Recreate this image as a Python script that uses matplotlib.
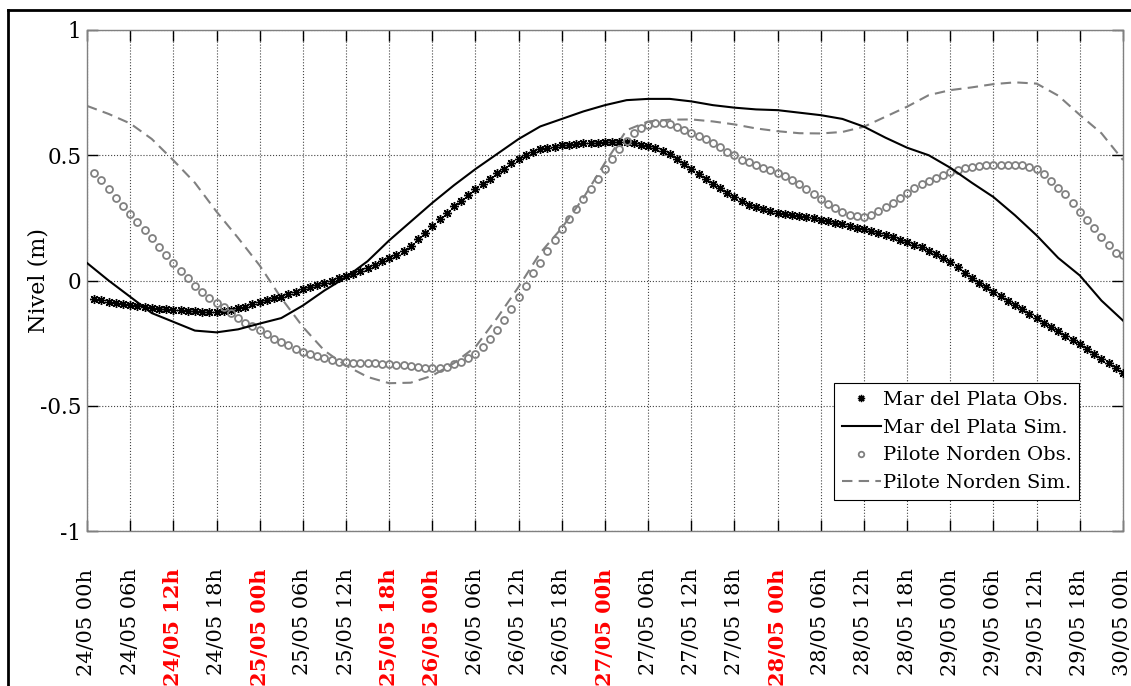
import numpy as np
import matplotlib
matplotlib.use('Agg')
import matplotlib.pyplot as plt
from matplotlib.lines import Line2D

plt.rcParams['font.family'] = ['DejaVu Serif']

# ---------------- data ----------------
hours_obs = np.arange(1, 145)  # hours since 24/05 00h
mdp_obs = [-0.074, -0.079, -0.084, -0.088, -0.093, -0.098, -0.102, -0.105, -0.109, -0.112,
           -0.115, -0.117, -0.119, -0.121, -0.123, -0.124, -0.125, -0.125, -0.122, -0.117,
           -0.111, -0.105, -0.095, -0.085, -0.078, -0.071, -0.065, -0.055, -0.044, -0.034,
           -0.025, -0.016, -0.008, 0.000, 0.008, 0.016, 0.026, 0.037, 0.048, 0.062,
           0.076, 0.088, 0.103, 0.118, 0.138, 0.164, 0.188, 0.218, 0.244, 0.271,
           0.297, 0.319, 0.341, 0.364, 0.385, 0.404, 0.428, 0.444, 0.468, 0.484,
           0.501, 0.514, 0.524, 0.530, 0.534, 0.541, 0.541, 0.545, 0.548, 0.548,
           0.550, 0.553, 0.554, 0.554, 0.553, 0.548, 0.542, 0.536, 0.528, 0.518,
           0.503, 0.486, 0.466, 0.445, 0.425, 0.405, 0.387, 0.368, 0.350, 0.332,
           0.317, 0.303, 0.293, 0.284, 0.276, 0.271, 0.266, 0.262, 0.257, 0.253,
           0.248, 0.242, 0.236, 0.230, 0.225, 0.218, 0.211, 0.205, 0.197, 0.190,
           0.182, 0.173, 0.163, 0.153, 0.142, 0.132, 0.119, 0.104, 0.088, 0.072,
           0.052, 0.030, 0.010, -0.008, -0.025, -0.045, -0.063, -0.080, -0.098, -0.115,
           -0.133, -0.150, -0.169, -0.186, -0.203, -0.220, -0.238, -0.255, -0.274, -0.293,
           -0.312, -0.331, -0.350, -0.370]
pn_obs = [0.430, 0.400, 0.364, 0.330, 0.296, 0.267, 0.235, 0.200, 0.170, 0.135,
          0.100, 0.069, 0.038, 0.009, -0.022, -0.045, -0.068, -0.088, -0.107, -0.128,
          -0.150, -0.168, -0.183, -0.198, -0.213, -0.232, -0.247, -0.259, -0.273, -0.284,
          -0.293, -0.302, -0.311, -0.319, -0.325, -0.327, -0.328, -0.329, -0.329, -0.330,
          -0.332, -0.334, -0.336, -0.337, -0.341, -0.346, -0.349, -0.350, -0.349, -0.344,
          -0.335, -0.324, -0.310, -0.293, -0.264, -0.232, -0.197, -0.157, -0.115, -0.067,
          -0.022, 0.028, 0.071, 0.118, 0.162, 0.204, 0.244, 0.284, 0.324, 0.364,
          0.404, 0.447, 0.487, 0.523, 0.555, 0.587, 0.607, 0.620, 0.627, 0.627,
          0.624, 0.613, 0.600, 0.590, 0.578, 0.563, 0.547, 0.531, 0.513, 0.500,
          0.483, 0.473, 0.460, 0.451, 0.440, 0.429, 0.416, 0.400, 0.385, 0.367,
          0.345, 0.325, 0.305, 0.288, 0.274, 0.263, 0.256, 0.253, 0.262, 0.276,
          0.292, 0.310, 0.330, 0.350, 0.369, 0.385, 0.398, 0.411, 0.422, 0.435,
          0.443, 0.449, 0.454, 0.457, 0.460, 0.461, 0.463, 0.463, 0.463, 0.462,
          0.455, 0.444, 0.425, 0.398, 0.370, 0.345, 0.311, 0.272, 0.240, 0.210,
          0.175, 0.140, 0.110, 0.100]

hours_sim = np.arange(0, 145, 3)
mdp_sim = [0.070, 0.000, -0.065, -0.130, -0.165, -0.200, -0.207, -0.195, -0.172, -0.150,
           -0.100, -0.040, 0.013, 0.077, 0.160, 0.235, 0.310, 0.380, 0.445, 0.505,
           0.565, 0.615, 0.645, 0.675, 0.700, 0.720, 0.725, 0.725, 0.715, 0.700,
           0.690, 0.683, 0.680, 0.670, 0.660, 0.645, 0.614, 0.570, 0.530, 0.500,
           0.450, 0.390, 0.333, 0.260, 0.180, 0.090, 0.020, -0.080, -0.160]
pn_sim = [0.697, 0.665, 0.627, 0.565, 0.480, 0.390, 0.275, 0.170, 0.060, -0.070,
          -0.185, -0.280, -0.340, -0.385, -0.410, -0.408, -0.380, -0.330, -0.265, -0.150,
          -0.025, 0.110, 0.210, 0.330, 0.470, 0.600, 0.635, 0.642, 0.643, 0.635,
          0.623, 0.607, 0.596, 0.588, 0.587, 0.593, 0.614, 0.654, 0.694, 0.740,
          0.760, 0.771, 0.784, 0.791, 0.786, 0.738, 0.661, 0.588, 0.481]

tick_hours = np.arange(0, 145, 6)
tick_labels = ['24/05 00h', '24/05 06h', '24/05 12h', '24/05 18h',
               '25/05 00h', '25/05 06h', '25/05 12h', '25/05 18h',
               '26/05 00h', '26/05 06h', '26/05 12h', '26/05 18h',
               '27/05 00h', '27/05 06h', '27/05 12h', '27/05 18h',
               '28/05 00h', '28/05 06h', '28/05 12h', '28/05 18h',
               '29/05 00h', '29/05 06h', '29/05 12h', '29/05 18h',
               '30/05 00h']
highlight_labels = ['24/05 12h', '25/05 00h', '25/05 18h', '26/05 00h',
                    '27/05 00h', '28/05 00h']
y_ticks = [-1, -0.5, 0, 0.5, 1]
y_tick_labels = ['-1', '-0.5', '0', '0.5', '1']

# ---------------- figure ----------------
W, H = 1131, 686
fig = plt.figure(figsize=(W / 100, H / 100), dpi=100)
L, R, T, B = 87, 1123, 30, 531
ax = fig.add_axes([L / W, 1 - B / H, (R - L) / W, (B - T) / H])

gray = '#808080'
ax.plot(hours_obs, mdp_obs, ls='none', marker=(8, 2, 0), color='k', ms=6.5, mew=1.0,
        label='Mar del Plata Obs.', zorder=3)
ax.plot(hours_sim, mdp_sim, color='k', lw=1.5, label='Mar del Plata Sim.', zorder=4)
ax.plot(hours_obs, pn_obs, ls='none', marker='o', mfc='none', mec=gray, ms=5, mew=1.3,
        label='Pilote Norden Obs.', zorder=3)
ax.plot(hours_sim, pn_sim, color=gray, lw=1.5, dashes=(5, 3), label='Pilote Norden Sim.',
        zorder=2)

ax.set_xlim(0, 144)
ax.set_ylim(-1, 1)
ax.set_xticks(tick_hours)
ax.set_xticklabels(tick_labels, rotation=90, fontsize=15)
for lab in ax.get_xticklabels():
    if lab.get_text() in highlight_labels:
        lab.set_color('red')
        lab.set_fontweight('bold')
ax.set_yticks(y_ticks)
ax.set_yticklabels(y_tick_labels, fontsize=15.5)
ax.tick_params(direction='in', length=8, width=1, color='k', top=True, right=True)
ax.tick_params(axis='x', pad=27)
ax.tick_params(axis='y', pad=4)
ax.grid(True, ls=':', color='#444444', lw=0.8)
for sp in ax.spines.values():
    sp.set_color(gray)
    sp.set_linewidth(1)
ax.set_ylabel('Nivel (m)', fontsize=16)
ax.yaxis.set_label_coords((49 - L) / (R - L), 0.5)

leg = ax.legend(loc='lower right', bbox_to_anchor=(0.958, 0.062), fontsize=14,
                fancybox=False, framealpha=1, edgecolor='k', numpoints=1,
                handlelength=2.0, handletextpad=0.1, borderpad=0.4,
                labelspacing=0.5, borderaxespad=0, markerscale=0.8)
leg.get_frame().set_linewidth(0.8)

# outer frame (left and top edges)
fig.add_artist(Line2D([8 / W, 8 / W], [0, 1 - 10 / H], transform=fig.transFigure,
                      color='k', lw=2))
fig.add_artist(Line2D([8 / W, 1], [1 - 10 / H, 1 - 10 / H], transform=fig.transFigure,
                      color='k', lw=2))

fig.savefig('out.png', dpi=100)
